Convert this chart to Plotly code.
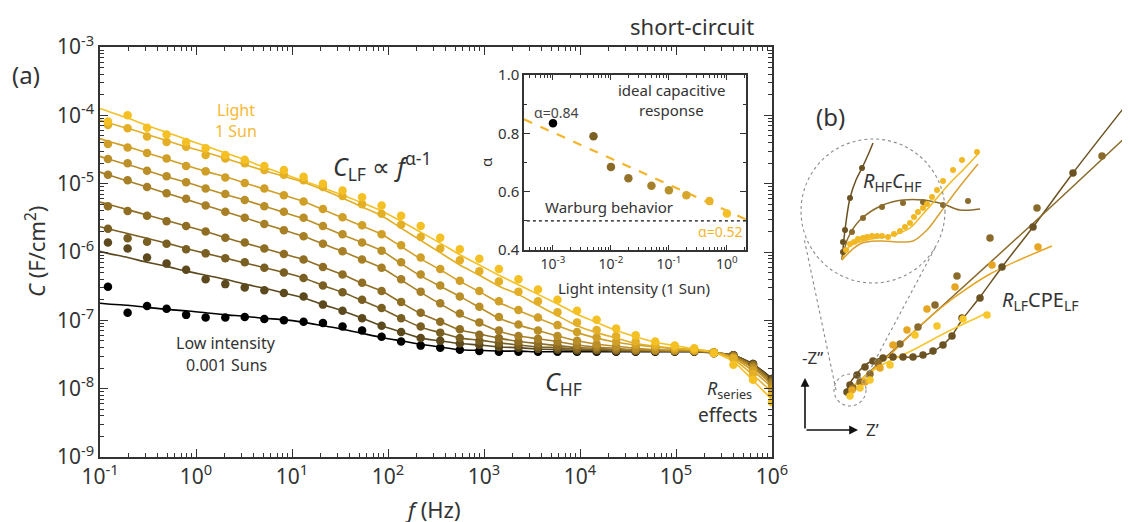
import plotly.graph_objects as go

W, H = 1130, 522
OFF = 8  # page body margin of the browser page
FONT = "Noto Sans"
TXT = "#333333"

# ---------------- panel (a): capacitance spectra ----------------
freq_hz = [0.121, 0.194, 0.309, 0.494, 0.789, 1.26, 2.02, 3.22, 5.15, 8.23, 13.2, 21.0,
           33.6, 53.7, 85.8, 137, 219, 350, 560, 894, 1430, 2285, 3650, 5830, 9310,
           14900, 23800, 38000, 60800, 97100, 155000, 248000, 396000, 634000, 1000000]
fit_freq_hz = [0.1] + freq_hz

intensity_sun = [0.001, 0.005, 0.01, 0.02, 0.05, 0.1, 0.2, 0.5, 1.0]
series_colors = ["#000000", "#5c4a1e", "#7a5f22", "#8f6e24", "#a67f26",
                 "#bb8f27", "#d09f27", "#e3af27", "#f5c024"]

# log10 C (F/cm2) measured points
logC_pts = [
    [-6.51, -6.89, -6.79, -6.83, -6.92, -6.96, -6.96, -6.95, -6.98, -7.00, -7.02, -7.04, -7.09, -7.15, -7.24, -7.31, -7.37, -7.40, -7.43, -7.45, -7.46, -7.46, -7.46, -7.46, -7.46, -7.46, -7.46, -7.46, -7.46, -7.46, -7.46, -7.48, -7.51, -7.64, -7.86],
    [-5.86, -5.95, -6.08, -6.17, -6.26, -6.40, -6.47, -6.52, -6.56, -6.60, -6.65, -6.77, -6.86, -6.97, -7.08, -7.17, -7.26, -7.30, -7.34, -7.36, -7.39, -7.40, -7.42, -7.43, -7.44, -7.44, -7.45, -7.45, -7.45, -7.45, -7.45, -7.47, -7.51, -7.64, -7.86],
    [-5.66, -5.80, -5.85, -5.88, -5.96, -6.02, -6.09, -6.15, -6.23, -6.30, -6.38, -6.49, -6.59, -6.70, -6.82, -6.97, -7.09, -7.18, -7.26, -7.30, -7.33, -7.36, -7.39, -7.40, -7.42, -7.43, -7.43, -7.44, -7.44, -7.45, -7.45, -7.47, -7.52, -7.65, -7.88],
    [-5.33, -5.40, -5.47, -5.55, -5.62, -5.70, -5.79, -5.86, -5.95, -6.03, -6.11, -6.22, -6.33, -6.45, -6.57, -6.73, -6.89, -7.02, -7.13, -7.21, -7.26, -7.31, -7.34, -7.37, -7.40, -7.41, -7.43, -7.44, -7.44, -7.45, -7.45, -7.47, -7.52, -7.66, -7.90],
    [-4.87, -4.95, -5.05, -5.14, -5.22, -5.32, -5.41, -5.50, -5.59, -5.68, -5.77, -5.88, -5.99, -6.11, -6.23, -6.40, -6.58, -6.75, -6.90, -7.03, -7.15, -7.23, -7.27, -7.31, -7.36, -7.39, -7.41, -7.43, -7.44, -7.44, -7.45, -7.47, -7.53, -7.68, -7.92],
    [-4.64, -4.70, -4.81, -4.89, -4.98, -5.07, -5.15, -5.24, -5.33, -5.41, -5.50, -5.62, -5.74, -5.86, -5.98, -6.15, -6.33, -6.49, -6.65, -6.80, -6.95, -7.06, -7.15, -7.23, -7.30, -7.35, -7.38, -7.41, -7.43, -7.44, -7.45, -7.47, -7.54, -7.70, -7.95],
    [-4.42, -4.47, -4.55, -4.63, -4.74, -4.82, -4.91, -4.99, -5.07, -5.17, -5.26, -5.37, -5.49, -5.61, -5.74, -5.90, -6.08, -6.25, -6.42, -6.57, -6.72, -6.85, -6.96, -7.07, -7.17, -7.25, -7.31, -7.36, -7.39, -7.42, -7.44, -7.47, -7.55, -7.73, -8.00],
    [-4.14, -4.19, -4.31, -4.39, -4.46, -4.58, -4.63, -4.70, -4.80, -4.87, -4.95, -5.05, -5.18, -5.30, -5.44, -5.60, -5.78, -5.95, -6.12, -6.28, -6.43, -6.58, -6.72, -6.88, -7.03, -7.14, -7.23, -7.31, -7.36, -7.40, -7.43, -7.47, -7.56, -7.78, -8.08],
    [-4.09, -4.00, -4.18, -4.28, -4.39, -4.48, -4.58, -4.65, -4.74, -4.80, -4.90, -5.00, -5.10, -5.20, -5.32, -5.47, -5.62, -5.79, -5.96, -6.10, -6.25, -6.40, -6.55, -6.70, -6.86, -6.99, -7.12, -7.22, -7.31, -7.37, -7.41, -7.48, -7.65, -7.87, -8.20],
]

# log10 C (F/cm2) of the fitted curves (first value at 0.1 Hz)
logC_fit = [
    [-6.75, -6.76, -6.78, -6.81, -6.84, -6.86, -6.89, -6.92, -6.94, -6.97, -6.99, -7.03, -7.08, -7.13, -7.19, -7.25, -7.30, -7.35, -7.39, -7.43, -7.44, -7.45, -7.45, -7.46, -7.46, -7.46, -7.46, -7.46, -7.46, -7.46, -7.46, -7.46, -7.48, -7.51, -7.64, -7.85],
    [-5.99, -6.02, -6.08, -6.15, -6.21, -6.28, -6.34, -6.40, -6.47, -6.53, -6.60, -6.67, -6.77, -6.86, -6.97, -7.08, -7.17, -7.26, -7.30, -7.34, -7.36, -7.39, -7.40, -7.42, -7.43, -7.44, -7.44, -7.45, -7.45, -7.45, -7.45, -7.45, -7.47, -7.51, -7.64, -7.86],
    [-5.63, -5.66, -5.73, -5.80, -5.87, -5.95, -6.02, -6.09, -6.16, -6.23, -6.30, -6.38, -6.49, -6.59, -6.71, -6.83, -6.97, -7.10, -7.18, -7.26, -7.29, -7.33, -7.36, -7.39, -7.40, -7.42, -7.43, -7.43, -7.44, -7.44, -7.45, -7.45, -7.47, -7.52, -7.65, -7.87],
    [-5.27, -5.30, -5.38, -5.46, -5.54, -5.62, -5.70, -5.79, -5.87, -5.95, -6.03, -6.11, -6.22, -6.33, -6.46, -6.57, -6.74, -6.90, -7.02, -7.14, -7.20, -7.26, -7.31, -7.34, -7.37, -7.40, -7.41, -7.43, -7.44, -7.44, -7.45, -7.45, -7.47, -7.52, -7.66, -7.89],
    [-4.83, -4.87, -4.96, -5.05, -5.14, -5.23, -5.32, -5.41, -5.50, -5.59, -5.68, -5.77, -5.88, -5.99, -6.11, -6.23, -6.41, -6.59, -6.76, -6.92, -7.04, -7.16, -7.23, -7.27, -7.31, -7.36, -7.39, -7.41, -7.43, -7.44, -7.44, -7.45, -7.47, -7.53, -7.68, -7.91],
    [-4.60, -4.64, -4.72, -4.81, -4.90, -4.98, -5.07, -5.16, -5.24, -5.33, -5.42, -5.51, -5.63, -5.75, -5.86, -5.98, -6.17, -6.35, -6.50, -6.65, -6.81, -6.97, -7.07, -7.15, -7.23, -7.30, -7.35, -7.38, -7.41, -7.43, -7.44, -7.44, -7.46, -7.54, -7.70, -7.94],
    [-4.34, -4.38, -4.46, -4.55, -4.64, -4.73, -4.82, -4.90, -4.99, -5.08, -5.17, -5.26, -5.38, -5.50, -5.62, -5.74, -5.92, -6.10, -6.26, -6.43, -6.58, -6.74, -6.86, -6.97, -7.08, -7.18, -7.26, -7.32, -7.36, -7.39, -7.42, -7.43, -7.46, -7.55, -7.74, -7.98],
    [-4.07, -4.11, -4.19, -4.28, -4.37, -4.46, -4.54, -4.63, -4.72, -4.81, -4.89, -4.98, -5.09, -5.21, -5.34, -5.47, -5.65, -5.83, -6.01, -6.19, -6.34, -6.50, -6.62, -6.78, -6.93, -7.08, -7.18, -7.26, -7.34, -7.38, -7.41, -7.43, -7.47, -7.57, -7.80, -8.05],
    [-3.90, -3.94, -4.04, -4.15, -4.25, -4.35, -4.45, -4.55, -4.65, -4.76, -4.86, -4.96, -5.06, -5.17, -5.28, -5.40, -5.55, -5.71, -5.87, -6.04, -6.19, -6.34, -6.48, -6.62, -6.76, -6.91, -7.03, -7.15, -7.24, -7.32, -7.37, -7.42, -7.47, -7.60, -7.88, -8.16],
]

main_xticks = [0.1, 1, 10, 100, 1e3, 1e4, 1e5, 1e6]
main_xticktext = ["10<sup>-1</sup>", "10<sup>0</sup>", "10<sup>1</sup>", "10<sup>2</sup>",
                  "10<sup>3</sup>", "10<sup>4</sup>", "10<sup>5</sup>", "10<sup>6</sup>"]
main_yticks = [1e-9, 1e-8, 1e-7, 1e-6, 1e-5, 1e-4, 1e-3]
main_yticktext = ["10<sup>-9</sup>", "10<sup>-8</sup>", "10<sup>-7</sup>", "10<sup>-6</sup>",
                  "10<sup>-5</sup>", "10<sup>-4</sup>", "10<sup>-3</sup>"]

# ---------------- inset: alpha vs light intensity ----------------
alpha_vals = [0.835, 0.79, 0.685, 0.646, 0.62, 0.605, 0.588, 0.568, 0.525]
alpha_colors = ["#000000", "#7a6022", "#8a6a26", "#94722a", "#a67f2c",
                "#b8902a", "#d9a62c", "#ebb32a", "#f5c024"]
alpha_fit_x = [3.16e-4, 2.14]
alpha_fit_y = [0.848, 0.505]
warburg_x = [3.55e-4, 2.14]
warburg_y = [0.5, 0.5]
inset_xticks = [1e-3, 1e-2, 1e-1, 1]
inset_xticktext = ["10<sup>-3</sup>", "10<sup>-2</sup>", "10<sup>-1</sup>", "10<sup>0</sup>"]

# ---------------- panel (b): Nyquist sketch (arbitrary units) ----------------
nyq_colors = ["#6b5222", "#8b6b2c", "#e6a623", "#f7c62a"]
nq_pts_u = [
    [57, 60, 67, 75, 83, 93, 103, 113, 123, 133, 143, 153, 162, 172, 190, 212, 243, 283, 338],
    [63, 70, 80, 88, 110, 128, 145, 167, 200, 247, 312],
    [62, 75, 90, 103, 117, 137, 165, 202, 248],
    [60, 70, 80, 100, 125, 147, 173, 197],
]
nq_pts_v = [
    [68, 75, 85, 93, 99, 102, 103, 103, 103, 105, 109, 115, 124, 142, 162, 193, 233, 287, 357],
    [72, 78, 86, 97, 116, 133, 155, 184, 222, 252, 304],
    [70, 78, 92, 115, 130, 151, 173, 195, 213],
    [64, 72, 80, 95, 125, 134, 141, 145],
]
nq_fit_u = [
    [55, 62, 70, 80, 93, 108, 123, 138, 150, 160, 172, 190, 212, 243, 283, 340],
    [55, 150, 250, 340],
    [55, 80, 103, 120, 140, 165, 200, 262],
    [55, 70, 90, 123, 157, 197],
]
nq_fit_v = [
    [66, 80, 90, 98, 102, 103, 103, 106, 113, 122, 140, 163, 193, 233, 287, 360],
    [66, 152, 243, 327],
    [66, 88, 108, 125, 143, 163, 186, 214],
    [66, 80, 94, 110, 128, 147],
]
mg_pts_u = [
    [53, 53, 55, 60, 72],
    [62, 73, 92, 113, 133, 153, 178],
    [56, 60, 64, 68, 73, 77, 82, 87, 92, 98, 104, 110, 115, 120, 124, 128, 133, 137, 142, 147, 153, 163, 172, 187],
]
mg_pts_v = [
    [208, 218, 230, 262, 292],
    [228, 242, 253, 257, 258, 255, 259],
    [210, 216, 218, 221, 222, 223, 224, 224, 224, 223, 226, 229, 233, 237, 243, 248, 252, 256, 263, 270, 279, 290, 300, 308],
]
mg_fit_u = [
    [52, 55, 60, 66, 72, 78, 83],
    [52, 58, 70, 93, 113, 133, 153, 170, 190],
    [52, 60, 77, 93, 107, 120, 133, 147, 160, 173, 188],
    [52, 70, 90, 110, 123, 137, 150, 167, 188],
]
mg_fit_v = [
    [200, 230, 262, 280, 292, 305, 317],
    [200, 222, 240, 255, 260, 260, 256, 250, 251],
    [200, 214, 220, 223, 226, 232, 246, 262, 277, 290, 306],
    [200, 216, 219, 218, 219, 230, 247, 270, 296],
]
mg_colors = ["#6b5222", "#8b6b2c", "#f2b824", "#d8a030"]


def px(x):
    return (x - OFF) / W


def py(y):
    return 1 - (y - OFF) / H


fig = go.Figure()

for i in range(len(intensity_sun)):
    fig.add_trace(go.Scatter(
        x=fit_freq_hz, y=[10 ** v for v in logC_fit[i]], mode="lines",
        line=dict(color=series_colors[i], width=1.6, shape="spline", smoothing=0.6),
        xaxis="x", yaxis="y", hoverinfo="skip"))
for i in range(len(intensity_sun)):
    fig.add_trace(go.Scatter(
        x=freq_hz, y=[10 ** v for v in logC_pts[i]], mode="markers",
        marker=dict(color=series_colors[i], size=8.5),
        xaxis="x", yaxis="y", name=f"{intensity_sun[i]} Sun"))

fig.add_trace(go.Scatter(x=warburg_x, y=warburg_y, mode="lines",
                         line=dict(color="#111111", width=1.3, dash="dot"),
                         xaxis="x2", yaxis="y2"))
fig.add_trace(go.Scatter(x=alpha_fit_x, y=alpha_fit_y, mode="lines",
                         line=dict(color="#f3b52c", width=2.2, dash="dash"),
                         xaxis="x2", yaxis="y2"))
fig.add_trace(go.Scatter(x=intensity_sun, y=alpha_vals, mode="markers",
                         marker=dict(color=alpha_colors, size=8.5),
                         xaxis="x2", yaxis="y2"))

for i in range(len(nq_fit_u)):
    fig.add_trace(go.Scatter(x=nq_fit_u[i], y=nq_fit_v[i], mode="lines",
                             line=dict(color=nyq_colors[i], width=1.5, shape="spline"),
                             xaxis="x3", yaxis="y3"))
for i in range(len(nq_pts_u)):
    fig.add_trace(go.Scatter(x=nq_pts_u[i], y=nq_pts_v[i], mode="markers",
                             marker=dict(color=nyq_colors[i], size=7.5),
                             xaxis="x3", yaxis="y3"))
for i in range(len(mg_fit_u)):
    fig.add_trace(go.Scatter(x=mg_fit_u[i], y=mg_fit_v[i], mode="lines",
                             line=dict(color=mg_colors[i], width=1.5, shape="spline"),
                             xaxis="x3", yaxis="y3"))
for i in range(len(mg_pts_u)):
    fig.add_trace(go.Scatter(x=mg_pts_u[i], y=mg_pts_v[i], mode="markers",
                             marker=dict(color=mg_colors[i], size=6),
                             xaxis="x3", yaxis="y3"))

minor_main_x = [m * 10.0 ** e for e in range(-1, 6) for m in range(2, 10)]
minor_main_y = [m * 10.0 ** e for e in range(-9, -3) for m in range(2, 10)]
minor_inset_x = [m * 10.0 ** e for e in range(-4, 1) for m in range(2, 10)]

axis_common = dict(showline=True, linecolor=TXT, linewidth=1.5, mirror="ticks",
                   ticks="inside", tickcolor=TXT, tickwidth=1.3, showgrid=False,
                   zeroline=False, automargin=False)

fig.update_layout(
    width=W, height=H, margin=dict(l=0, r=0, t=0, b=0),
    paper_bgcolor="white", plot_bgcolor="white", showlegend=False,
    font=dict(family=FONT, color=TXT),
    xaxis=dict(**axis_common, type="log", range=[-1, 6], domain=[px(100), px(772)], anchor="y",
               tickvals=main_xticks, ticktext=main_xticktext, ticklen=8,
               tickfont=dict(size=21, family=FONT, color=TXT),
               minor=dict(tickvals=minor_main_x, ticks="inside", ticklen=4, tickcolor=TXT)),
    yaxis=dict(**axis_common, type="log", range=[-9, -3], domain=[py(457), py(47)], anchor="x",
               tickvals=main_yticks, ticktext=main_yticktext, ticklen=8,
               tickfont=dict(size=21, family=FONT, color=TXT),
               minor=dict(tickvals=minor_main_y, ticks="inside", ticklen=4, tickcolor=TXT)),
    xaxis2=dict(**axis_common, type="log", range=[-3.5, 0.33], domain=[px(524), px(746)], anchor="y2",
                tickvals=inset_xticks, ticktext=inset_xticktext, ticklen=5,
                tickfont=dict(size=14, family=FONT, color=TXT),
                minor=dict(tickvals=minor_inset_x, ticks="inside", ticklen=3, tickcolor=TXT)),
    yaxis2=dict(**axis_common, range=[0.4, 1.0], domain=[py(250), py(75)], anchor="x2",
                tickvals=[0.4, 0.6, 0.8, 1.0], ticktext=["0.4", "0.6", "0.8", "1.0"], ticklen=6,
                tickfont=dict(size=15, family=FONT, color=TXT),
                minor=dict(tickvals=[0.5, 0.7, 0.9], ticks="inside", ticklen=3, tickcolor=TXT)),
    xaxis3=dict(range=[0, 340], domain=[px(790), px(1130)], anchor="y3", visible=False),
    yaxis3=dict(range=[0, 400], domain=[py(460), py(60)], anchor="x3", visible=False),
)


def ann(x, y, text, size, color=TXT, **kw):
    fig.add_annotation(x=px(x), y=py(y), xref="paper", yref="paper", text=text,
                       showarrow=False, font=dict(size=size, color=color, family=FONT),
                       xanchor="center", yanchor="middle", **kw)


ann(26, 75, "(a)", 24)
ann(692, 26, "short-circuit", 22)
ann(36, 252, "<i>C</i> (F/cm<sup>2</sup>)", 22, textangle=-90)
ann(433, 509, "<i>f</i> (Hz)", 22)
ann(236, 110, "Light", 16, color="#f5b935")
ann(236, 131, "1 Sun", 16, color="#f5b935")
ann(382, 166, "<i>C</i><sub>LF</sub> ∝ <i>f</i><sup>α-1</sup>", 25)
ann(226, 343, "Low intensity", 16)
ann(226, 365, "0.001 Suns", 16)
ann(563, 382, "<i>C</i><sub>HF</sub>", 25)
ann(729, 389, "<i>R</i><sub>series</sub>", 18)
ann(728, 415, "effects", 19)
ann(671, 90, "ideal capacitive", 15)
ann(671, 110, "response", 15)
ann(556, 112, "α=0.84", 14, color="#444444")
ann(609, 207, "Warburg behavior", 15)
ann(720, 231, "α=0.52", 14, color="#f3b52c")
ann(486, 162, "α", 15, textangle=-90)
ann(634, 288, "Light intensity (1 Sun)", 15)
ann(830, 117, "(b)", 24)
ann(892, 182, "<i>R</i><sub>HF</sub><i>C</i><sub>HF</sub>", 20)
ann(1040, 300, "<i>R</i><sub>LF</sub>CPE<sub>LF</sub>", 20)
ann(812, 357, "-Z’’", 17)
ann(872, 429, "Z’", 17)

for (xh, yh) in [(15, 82), (68, 30)]:
    fig.add_annotation(x=xh, y=yh, ax=15, ay=30, xref="x3", yref="y3", axref="x3", ayref="y3",
                       text="", showarrow=True, arrowhead=2, arrowsize=1.1, arrowwidth=1.6,
                       arrowcolor="#111111")

dot = dict(color="#8a8a8a", width=1.1, dash="dot")
fig.add_shape(type="circle", xref="x3", yref="y3", x0=11, x1=155, y0=177, y1=321, line=dot)
fig.add_shape(type="circle", xref="x3", yref="y3", x0=44, x1=76, y0=54, y1=86, line=dot)
fig.add_shape(type="line", xref="x3", yref="y3", x0=73, y0=77, x1=145, y1=212, line=dot)
fig.add_shape(type="line", xref="x3", yref="y3", x0=46, y0=70, x1=14, y1=222, line=dot)

fig.write_html("out.html")
